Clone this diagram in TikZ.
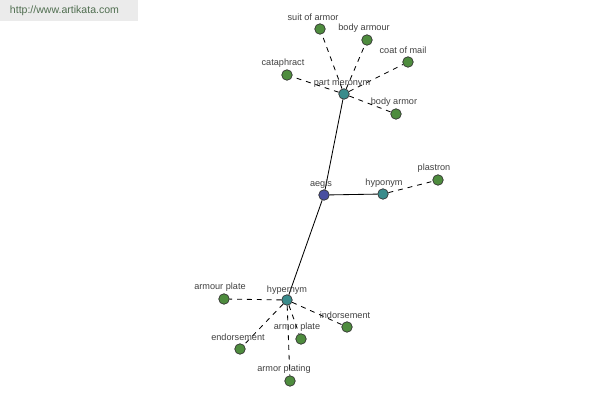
\documentclass[tikz,border=0pt]{standalone}
\usepackage{fontspec}
\setmainfont{Liberation Sans}
\definecolor{rootc}{RGB}{72,78,160}
\definecolor{relc}{RGB}{58,140,140}
\definecolor{leafc}{RGB}{78,140,62}
\definecolor{txtc}{RGB}{64,64,64}
\definecolor{wmc}{RGB}{80,110,80}
\tikzset{
  dot/.style={circle, draw=black!80, line width=0.5pt, inner sep=0pt, minimum size=7.5pt},
  lbl/.style={font=\fontsize{6.5}{7}\selectfont, text=txtc, inner sep=1pt},
  rel/.style={line width=0.6pt},
  syn/.style={line width=0.6pt, dash pattern=on 3.5pt off 3.5pt}
}
\begin{document}
\begin{tikzpicture}[x=0.025cm, y=-0.025cm]
\useasboundingbox (0,0) rectangle (600,400);
\fill[black!8] (0,0) rectangle (138,21);
\node[anchor=west, font=\fontsize{7.5}{8}\selectfont, text=wmc] (url) at (5,11) {http://www.artikata.com};

\node[dot, fill=rootc] (aegis) at (324,195) {};
\node[dot, fill=relc] (mero) at (344,94) {};
\node[dot, fill=relc] (hypo) at (383,194) {};
\node[dot, fill=relc] (hyper) at (287,300) {};

\node[dot, fill=leafc] (suit) at (320,29) {};
\node[dot, fill=leafc] (bodyarmour) at (367,40) {};
\node[dot, fill=leafc] (coat) at (408,62) {};
\node[dot, fill=leafc] (cata) at (287,75) {};
\node[dot, fill=leafc] (bodyarmor) at (396,114) {};
\node[dot, fill=leafc] (plastron) at (438,180) {};
\node[dot, fill=leafc] (armourplate) at (224,299) {};
\node[dot, fill=leafc] (indorse) at (347,327) {};
\node[dot, fill=leafc] (armorplate) at (301,339) {};
\node[dot, fill=leafc] (endorse) at (240,349) {};
\node[dot, fill=leafc] (plating) at (290,381) {};

\draw[rel] (aegis) -- (mero);
\draw[rel] (aegis) -- (hypo);
\draw[rel] (aegis) -- (hyper);

\draw[syn] (mero) -- (suit);
\draw[syn] (mero) -- (bodyarmour);
\draw[syn] (mero) -- (coat);
\draw[syn] (mero) -- (cata);
\draw[syn] (mero) -- (bodyarmor);
\draw[syn] (hypo) -- (plastron);
\draw[syn] (hyper) -- (armourplate);
\draw[syn] (hyper) -- (indorse);
\draw[syn] (hyper) -- (armorplate);
\draw[syn] (hyper) -- (endorse);
\draw[syn] (hyper) -- (plating);

% labels
\node[lbl] (aegis-l) at (321,184) {aegis};
\node[lbl] (mero-l) at (342,83) {part meronym};
\node[lbl] (hypo-l) at (384,183) {hyponym};
\node[lbl] (hyper-l) at (287,290) {hypernym};
\node[lbl] (suit-l) at (313,17) {suit of armor};
\node[lbl] (bodyarmour-l) at (364,28) {body armour};
\node[lbl] (coat-l) at (403,50) {coat of mail};
\node[lbl] (cata-l) at (283,63) {cataphract};
\node[lbl] (bodyarmor-l) at (394,102) {body armor};
\node[lbl] (plastron-l) at (434,168) {plastron};
\node[lbl] (armourplate-l) at (220,287) {armour plate};
\node[lbl] (indorse-l) at (345,315) {indorsement};
\node[lbl] (armorplate-l) at (297,327) {armor plate};
\node[lbl] (endorse-l) at (238,337) {endorsement};
\node[lbl] (plating-l) at (284,369) {armor plating};
\end{tikzpicture}
\end{document}
